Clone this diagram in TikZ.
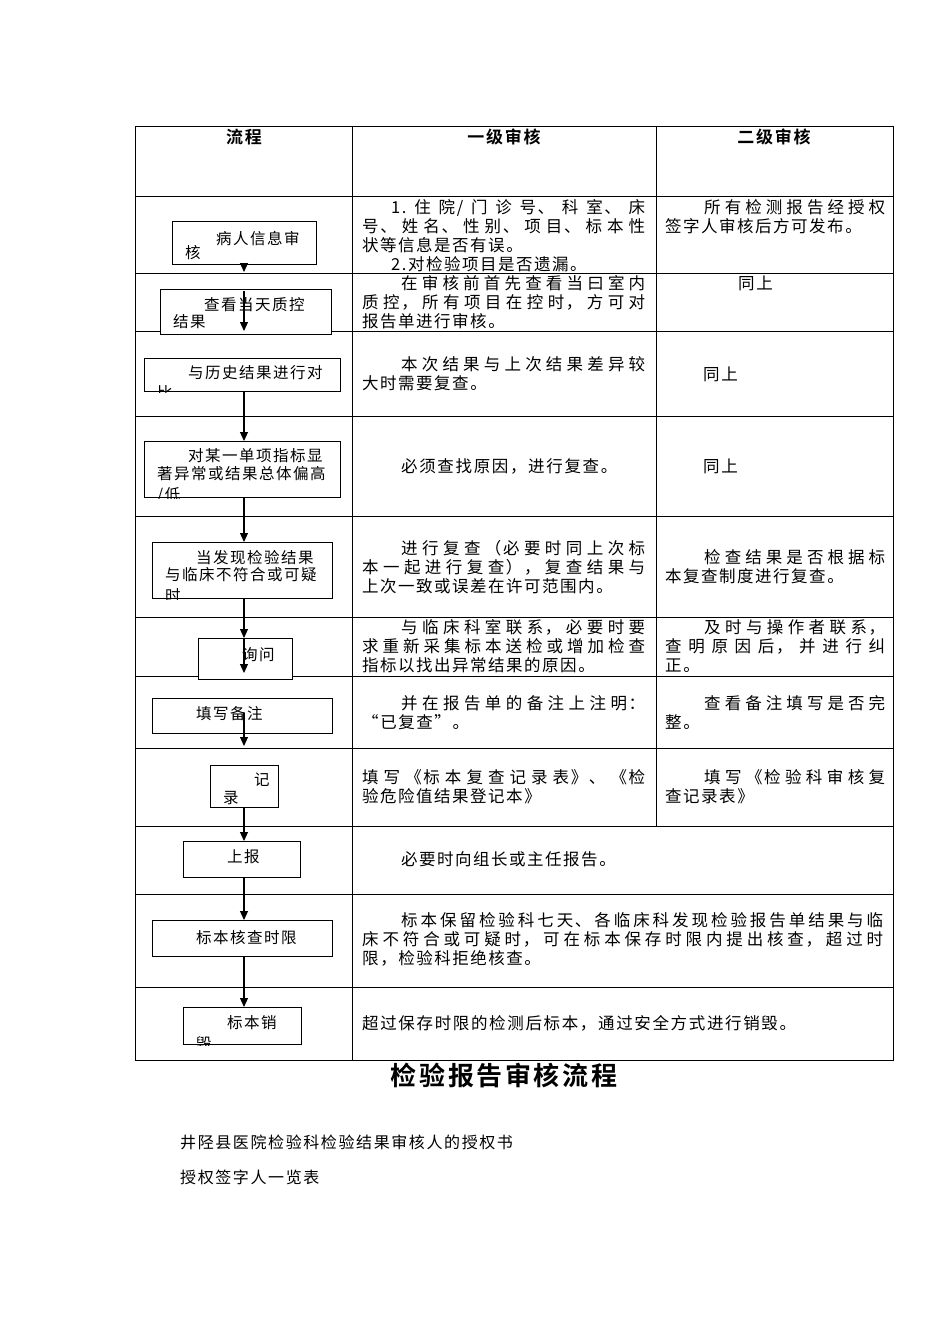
\documentclass[tikz,border=0pt]{standalone}
\usepackage{fontspec}
\usetikzlibrary{arrows.meta}
\newfontfamily\cjk[LetterSpace=10,BoldFont={Noto Sans CJK SC Bold}]{Noto Sans CJK SC}
\XeTeXlinebreaklocale "zh"
\XeTeXlinebreakskip=1.5pt plus 4pt
\tolerance=10000
\hbadness=10000
\tikzset{
  grid/.style={line width=1pt, black},
  fbox/.style={draw, line width=1.1pt, fill=white, inner sep=0pt, anchor=north west},
  flow/.style={-{Triangle[width=8pt,length=9pt]}, line width=1.1pt},
  cell/.style={anchor=base west, inner sep=0pt, text width=#1, align=justify, font=\cjk\fontsize{16.5}{19}\selectfont},
  btext/.style={anchor=base west, inner sep=0pt, text width=300pt, align=left, font=\cjk\fontsize{15.5}{18}\selectfont},
  hdr/.style={inner sep=0pt, font=\cjk\bfseries\fontsize{17}{19}\selectfont},
  plain/.style={anchor=base west, inner sep=0pt, font=\cjk\fontsize{16.5}{19}\selectfont},
  foot/.style={anchor=base west, inner sep=0pt, font=\cjk\fontsize{16}{19}\selectfont},
}
\begin{document}
\begin{tikzpicture}[x=1pt, y=-1pt]
\useasboundingbox (0,0) rectangle (950,1344);
% table grid
\draw[grid] (135,126) rectangle (893,1060);
\foreach \yy in {196,273,331,416,516,617,676,748,826,894,987}
  \draw[grid] (135,\yy) -- (893,\yy);
\draw[grid] (352,126) -- (352,1060);
\draw[grid] (656,126) -- (656,826);
% headers
\node[hdr] (h1) at (244,137) {流程};
\node[hdr] (h2) at (504,137) {一级审核};
\node[hdr] (h3) at (774,137) {二级审核};
% column texts
\node[cell=283pt] (c22) at (362,213) {\hspace*{29pt}1.住院/门诊号、科室、床\linebreak 号、姓名、性别、项目、标本性\linebreak 状等信息是否有误。\\\hspace*{29pt}2.对检验项目是否遗漏。};
\node[cell=220pt] (c32) at (665,213) {\hspace*{39pt}所有检测报告经授权\linebreak 签字人审核后方可发布。};
\node[cell=283pt] (c23) at (362,289) {\hspace*{39pt}在审核前首先查看当曰室内\linebreak 质控，所有项目在控时，方可对\linebreak 报告单进行审核。};
\node[plain] (c33) at (738,289) {同上};
\node[cell=283pt] (c24) at (362,370) {\hspace*{39pt}本次结果与上次结果差异较\linebreak 大时需要复查。};
\node[plain] (c34) at (703,380) {同上};
\node[plain] (c25) at (401,472) {必须查找原因，进行复查。};
\node[plain] (c35) at (703,472) {同上};
\node[cell=283pt] (c26) at (362,554) {\hspace*{39pt}进行复查（必要时同上次标\linebreak 本一起进行复查），复查结果与\linebreak 上次一致或误差在许可范围内。};
\node[cell=220pt] (c36) at (665,563) {\hspace*{39pt}检查结果是否根据标\linebreak 本复查制度进行复查。};
\node[cell=283pt] (c27) at (362,633) {\hspace*{39pt}与临床科室联系，必要时要\linebreak 求重新采集标本送检或增加检查\linebreak 指标以找出异常结果的原因。};
\node[cell=220pt] (c37) at (665,633) {\hspace*{39pt}及时与操作者联系，\linebreak 查明原因后，并进行纠\linebreak 正。};
\node[cell=283pt] (c28) at (362,709) {\hspace*{39pt}并在报告单的备注上注明：\linebreak “已复查”。};
\node[cell=220pt] (c38) at (665,709) {\hspace*{39pt}查看备注填写是否完\linebreak 整。};
\node[cell=283pt] (c29) at (362,783) {填写《标本复查记录表》、《检\linebreak 验危险值结果登记本》};
\node[cell=220pt] (c39) at (665,783) {\hspace*{39pt}填写《检验科审核复\linebreak 查记录表》};
\node[cell=521pt] (c10) at (362,865) {\hspace*{39pt}必要时向组长或主任报告。};
\node[cell=521pt] (c11) at (362,926) {\hspace*{39pt}标本保留检验科七天、各临床科发现检验报告单结果与临\linebreak 床不符合或可疑时，可在标本保存时限内提出核查，超过时\linebreak 限，检验科拒绝核查。};
\node[plain] (c12) at (362,1029) {超过保存时限的检测后标本，通过安全方式进行销毁。};
% flow boxes
\node[fbox, minimum width=144pt, minimum height=43pt] (b1) at (172,221) {};
\node[fbox, minimum width=171pt, minimum height=45pt] (b2) at (160,289) {};
\node[fbox, minimum width=196pt, minimum height=33pt] (b3) at (144,358) {};
\node[fbox, minimum width=196pt, minimum height=56pt] (b4) at (144,441) {};
\node[fbox, minimum width=180pt, minimum height=56pt] (b5) at (152,542) {};
\node[fbox, minimum width=94pt, minimum height=41pt] (b6) at (198,638) {};
\node[fbox, minimum width=180pt, minimum height=35pt] (b7) at (152,698) {};
\node[fbox, minimum width=68pt, minimum height=42pt] (b8) at (210,765) {};
\node[fbox, minimum width=117pt, minimum height=36pt] (b9) at (183,841) {};
\node[fbox, minimum width=180pt, minimum height=36pt] (b10) at (152,920) {};
\node[fbox, minimum width=118pt, minimum height=37pt] (b11) at (183,1007) {};
% box texts (clipped)
\begin{scope}\clip (b1.south west) rectangle (b1.north east);
\node[btext] (t1) at (185,244) {\hspace*{31pt}病人信息审\\[-4pt]核};\end{scope}
\begin{scope}\clip (b2.south west) rectangle (b2.north east);
\node[btext] (t2) at (173,310) {\hspace*{31pt}查看当天质控\\[-1pt]结果};\end{scope}
\begin{scope}\clip (b3.south west) rectangle (b3.north east);
\node[btext] (t3) at (157,378) {\hspace*{31pt}与历史结果进行对\\[2pt]比};\end{scope}
\begin{scope}\clip (b4.south west) rectangle (b4.north east);
\node[btext] (t4) at (157,461) {\hspace*{31pt}对某一单项指标显\\著异常或结果总体偏高\\[3pt]/低};\end{scope}
\begin{scope}\clip (b5.south west) rectangle (b5.north east);
\node[btext] (t5) at (165,563) {\hspace*{31pt}当发现检验结果\\[-1pt]与临床不符合或可疑\\[3pt]时};\end{scope}
\begin{scope}\clip (b6.south west) rectangle (b6.north east);
\node[btext] (t6) at (211,660) {\hspace*{31pt}询问};\end{scope}
\begin{scope}\clip (b7.south west) rectangle (b7.north east);
\node[btext] (t7) at (165,719) {\hspace*{31pt}填写备注};\end{scope}
\begin{scope}\clip (b8.south west) rectangle (b8.north east);
\node[btext] (t8) at (223,785) {\hspace*{31pt}记\\录};\end{scope}
\begin{scope}\clip (b9.south west) rectangle (b9.north east);
\node[btext] (t9) at (196,862) {\hspace*{31pt}上报};\end{scope}
\begin{scope}\clip (b10.south west) rectangle (b10.north east);
\node[btext] (t10) at (165,943) {\hspace*{31pt}标本核查时限};\end{scope}
\begin{scope}\clip (b11.south west) rectangle (b11.north east);
\node[btext] (t11) at (196,1028) {\hspace*{31pt}标本销\\[3pt]毁};\end{scope}
% connectors
\coordinate (ax) at (244,0);
\coordinate (a1e) at (244,272);
\coordinate (a2s) at (244,291);
\coordinate (a2e) at (244,331);
\coordinate (a6e) at (244,673);
\coordinate (a7s) at (244,713);
\coordinate (a7e) at (244,746);
\draw[flow] (b1.south -| ax) -- (a1e);
\draw[flow] (a2s) -- (a2e);
\draw[flow] (b3.south -| ax) -- (b4.north -| ax);
\draw[flow] (b4.south -| ax) -- (b5.north -| ax);
\draw[flow] (b5.south -| ax) -- (b6.north -| ax);
\draw[flow] (b6.north -| ax) -- (a6e);
\draw[flow] (a7s) -- (a7e);
\draw[flow] (b8.south -| ax) -- (b9.north -| ax);
\draw[flow] (b9.south -| ax) -- (b10.north -| ax);
\draw[flow] (b10.south -| ax) -- (b11.north -| ax);
% title and footer
\node[inner sep=0pt, font=\cjk\bfseries\fontsize{26}{28}\selectfont] (title) at (504,1075) {检验报告审核流程};
\node[foot] (f1) at (180,1148) {井陉县医院检验科检验结果审核人的授权书};
\node[foot] (f2) at (180,1183) {授权签字人一览表};
\end{tikzpicture}
\end{document}
